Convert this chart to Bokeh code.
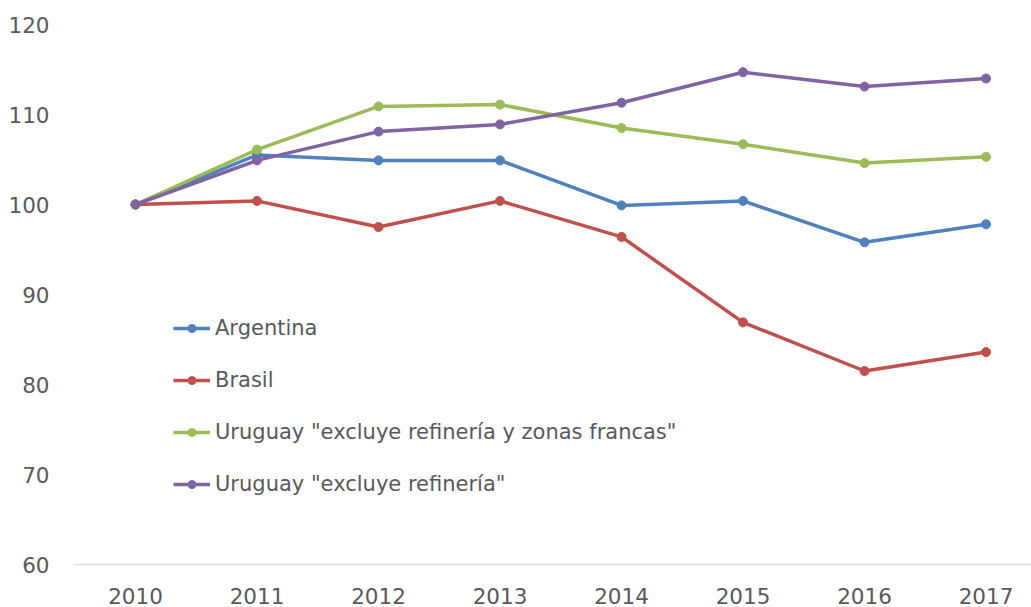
from bokeh.plotting import figure
from bokeh.models import FixedTicker, Legend, LegendItem, Range1d
from bokeh.embed import file_html
from bokeh.resources import INLINE

years = [2010, 2011, 2012, 2013, 2014, 2015, 2016, 2017]
argentina = [100, 105.5, 104.9, 104.9, 99.9, 100.4, 95.8, 97.8]
brasil = [100, 100.4, 97.5, 100.4, 96.4, 86.9, 81.5, 83.6]
uy_zf = [100, 106.1, 110.9, 111.1, 108.5, 106.7, 104.6, 105.3]
uy_ref = [100, 104.9, 108.1, 108.9, 111.3, 114.7, 113.1, 114.0]

names = ["Argentina", "Brasil",
         'Uruguay "excluye refinería y zonas francas"',
         'Uruguay "excluye refinería"']
colors = ["#4F81BD", "#C0504D", "#9BBB59", "#8064A2"]
series = [argentina, brasil, uy_zf, uy_ref]
y_ticks = [60, 70, 80, 90, 100, 110, 120]

FONT = "DejaVu Sans"
TXT = "#595959"

p = figure(width=1031, height=607, output_backend="svg", toolbar_location=None,
           x_range=Range1d(2009.498, 2017.374), y_range=Range1d(60, 120),
           min_border_left=74, min_border_right=0, min_border_top=24,
           min_border_bottom=43)
p.outline_line_color = None
p.grid.grid_line_color = None
p.background_fill_color = "white"

items = []
for name, col, vals in zip(names, colors, series):
    l = p.line(years, vals, line_color=col, line_width=3.5)
    c = p.scatter(years, vals, size=9, fill_color=col, line_color=col)
    items.append(LegendItem(label=name, renderers=[l, c]))

legend = Legend(items=items, location=(99, 68), orientation="vertical",
                glyph_width=37, glyph_height=20, label_height=20,
                label_standoff=5, spacing=28, padding=0, margin=0,
                border_line_color=None, background_fill_alpha=0,
                label_text_font=FONT, label_text_font_size="21px",
                label_text_color=TXT)
p.add_layout(legend, "center")

xa = p.xaxis[0]
xa.ticker = FixedTicker(ticks=years)
xa.axis_line_color = "#D9D9D9"
xa.axis_line_width = 1.5
xa.major_tick_line_color = None
xa.minor_tick_line_color = None
xa.major_tick_out = 0
xa.major_label_standoff = 23
xa.major_label_text_font = FONT
xa.major_label_text_font_size = "21.5px"
xa.major_label_text_color = TXT

ya = p.yaxis[0]
ya.ticker = FixedTicker(ticks=y_ticks)
ya.axis_line_color = None
ya.major_tick_line_color = None
ya.minor_tick_line_color = None
ya.major_tick_out = 0
ya.major_label_standoff = 25
ya.major_label_text_font = FONT
ya.major_label_text_font_size = "21.5px"
ya.major_label_text_color = TXT

open("out.html", "w").write(file_html(p, INLINE))
